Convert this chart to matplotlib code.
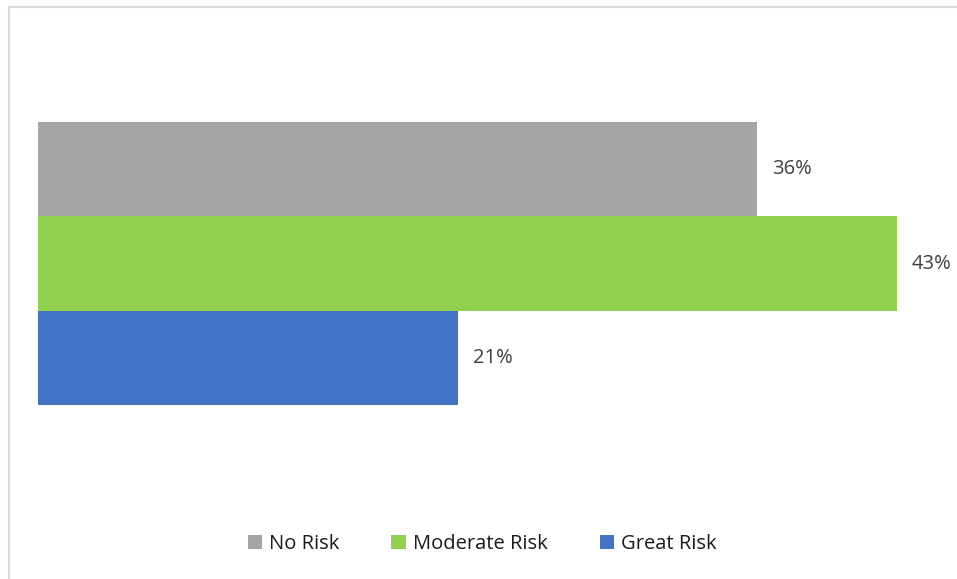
import matplotlib

matplotlib.use("Agg")
import matplotlib.pyplot as plt
from matplotlib.patches import Rectangle

series = ["No Risk", "Moderate Risk", "Great Risk"]
shares = [0.36, 0.43, 0.21]
colors = ["#a5a5a5", "#92d050", "#4472c4"]

W, H = 957, 579
plt.rcParams["font.family"] = ["Open Sans", "DejaVu Sans"]

fig = plt.figure(figsize=(W / 100, H / 100), dpi=100)

# light frame round the chart area
frame = Rectangle(
    (8.5 / W, -0.05), 1.2, 1.05 - 6.5 / H,
    transform=fig.transFigure, fill=False, edgecolor="#d9d9d9", linewidth=1.5,
)
fig.patches.append(frame)

ax = fig.add_axes([38 / W, 1 - 405 / H, 900 / W, 283 / H])
bars = []
for i, (name, val, col) in enumerate(zip(series, shares, colors)):
    b = ax.barh(i, val, height=1.0, color=col, label=name)
    bars.append(b)
    ax.text(val + 0.0075, i, f"{val:.0%}", va="center", ha="left",
            fontsize=14.5, color="#404040")

ax.set_xlim(0, 0.4505)
ax.set_ylim(2.5, -0.5)
ax.axis("off")

fig.legend(
    handles=[b[0] for b in bars], labels=series,
    loc="center", bbox_to_anchor=(482 / W, 1 - 544 / H),
    ncol=3, frameon=False, fontsize=14.5, handlelength=0.7, handleheight=0.7,
    handletextpad=0.35, columnspacing=2.6, labelcolor="#1a1a1a",
)

fig.savefig("out.png", dpi=100)
